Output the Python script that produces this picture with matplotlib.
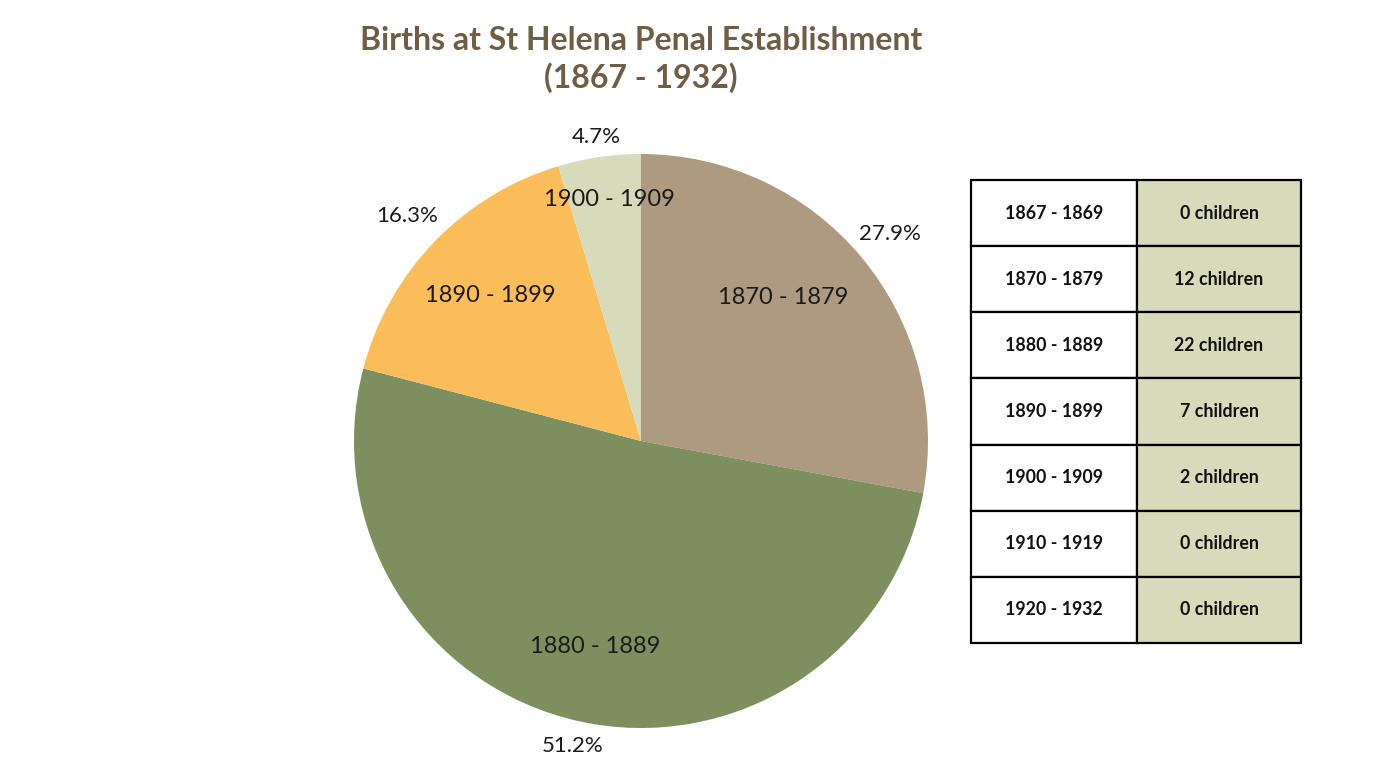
import numpy as np
import matplotlib.pyplot as plt
from matplotlib.patches import Rectangle

# pie data
decades = ["1870 - 1879", "1880 - 1889", "1890 - 1899", "1900 - 1909"]
births = [12, 22, 7, 2]
colors = ["#AE9A80", "#7D8F5E", "#FBBC5A", "#D7DBBC"]

# table data
periods = ["1867 - 1869", "1870 - 1879", "1880 - 1889", "1890 - 1899",
           "1900 - 1909", "1910 - 1919", "1920 - 1932"]
counts = [0, 12, 22, 7, 2, 0, 0]

plt.rcParams['font.family'] = ['Lato', 'DejaVu Sans']

W, H = 1379, 776
fig = plt.figure(figsize=(W / 100, H / 100), dpi=100)
fig.patch.set_facecolor("white")

# pie axes: centre (641, 441), radius 287 px
cx, cy, r = 641, 441, 287
ax = fig.add_axes([(cx - r) / W, (H - cy - r) / H, 2 * r / W, 2 * r / H])
wedges, _ = ax.pie(births, colors=colors, startangle=90, counterclock=False,
                   wedgeprops=dict(linewidth=0))
ax.set_xlim(-1, 1)
ax.set_ylim(-1, 1)
ax.set_aspect("equal")
ax.axis("off")

total = sum(births)
label_r = [0.705, 0.735, 0.73, 0.85]
label_shift = [5.5, 0, 0, -1.0]   # degrees, nudges label off the mid angle
pct_r = [1.13, 1.09, 1.13, 1.07]
for w, name, n, lr, sh, pr in zip(wedges, decades, births, label_r, label_shift, pct_r):
    mid_deg = (w.theta1 + w.theta2) / 2
    lab = np.deg2rad(mid_deg + sh)
    mid = np.deg2rad(mid_deg)
    ax.text(lr * np.cos(lab), lr * np.sin(lab), name, ha="center", va="center",
            fontsize=17, color="#1a1a1a")
    ax.text(pr * np.cos(mid), pr * np.sin(mid), "{:.1f}%".format(100 * n / total),
            ha="center", va="center", fontsize=16, color="#1a1a1a")

fig.text(641 / W, 1 - 40 / H, "Births at St Helena Penal Establishment",
         ha="center", va="center", fontsize=23, fontweight="bold", color="#6E5E45")
fig.text(641 / W, 1 - 78 / H, "(1867 - 1932)",
         ha="center", va="center", fontsize=23, fontweight="bold", color="#6E5E45")

# table drawn in pixel coordinates
tx = fig.add_axes([0, 0, 1, 1])
tx.set_xlim(0, W)
tx.set_ylim(H, 0)
tx.axis("off")
x0, xm, x1 = 971, 1137, 1301
y0, y1 = 180, 643
rh = (y1 - y0) / len(periods)
for i, (p, c) in enumerate(zip(periods, counts)):
    yt = y0 + i * rh
    tx.add_patch(Rectangle((x0, yt), xm - x0, rh, facecolor="white",
                           edgecolor="black", linewidth=1.6))
    tx.add_patch(Rectangle((xm, yt), x1 - xm, rh, facecolor="#D7DBBC",
                           edgecolor="black", linewidth=1.6))
    tx.text((x0 + xm) / 2, yt + rh / 2, p, ha="center", va="center",
            fontsize=12.8, fontweight="bold", color="#111111")
    tx.text((xm + x1) / 2, yt + rh / 2, "{} children".format(c), ha="center",
            va="center", fontsize=12.8, fontweight="bold", color="#111111")

fig.savefig("out.png", dpi=100, facecolor="white")
